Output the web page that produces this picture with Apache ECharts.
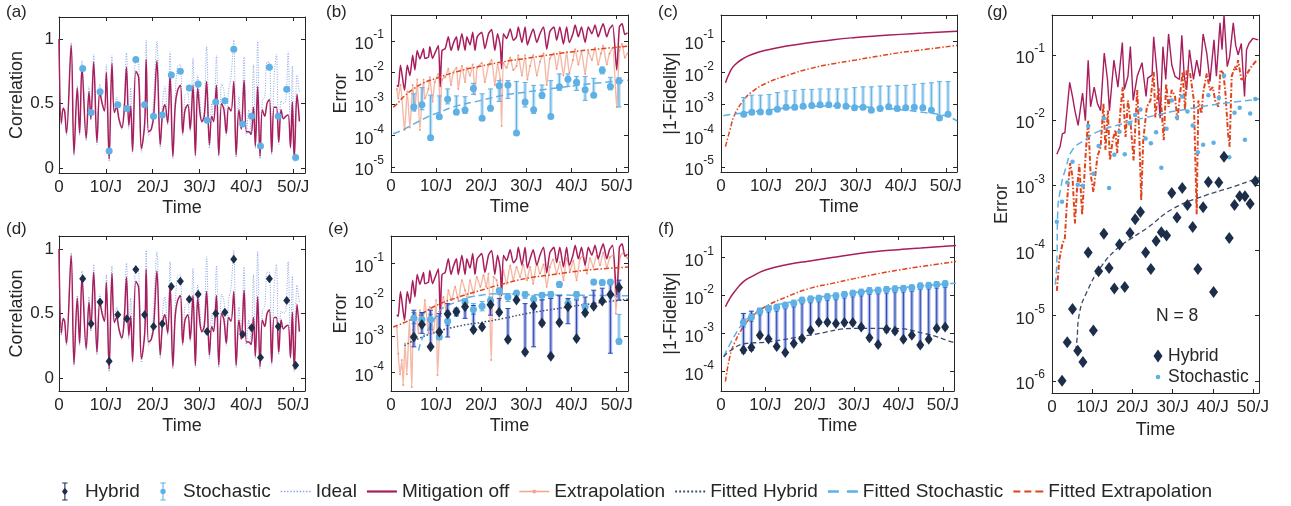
<!DOCTYPE html>
<html>
<head>
<meta charset="utf-8">
<script src="https://cdn.jsdelivr.net/npm/echarts@6/dist/echarts.min.js"></script>
<style>
body { margin: 0; background: #fff; }
#chart { width: 1291px; height: 506px; }
</style>
</head>
<body>
<div id="chart"></div>
<script>
// ---------- values ----------
// measurement times shared by (a)-(f)
const T = [5.06, 6.85, 8.77, 10.7, 12.55, 14.48, 16.4, 18.26, 20.18, 22.04, 23.97, 25.9, 27.8,
  29.7, 31.6, 33.45, 35.4, 37.3, 39.2, 41.1, 43.0, 44.9, 46.8, 48.6, 50.5];

// (a)/(d) correlation curves
const corrT = [0, 0.5, 0.9, 1.2, 1.6, 2.6, 3.2, 3.9, 4.4, 4.9, 5.8, 6.4, 6.8, 7.4, 8.1, 8.7, 9.2, 9.7, 10.1, 10.7,
  11.3, 11.8, 12.3, 12.8, 13.4, 13.9, 14.4, 14.9, 15.3, 15.7, 16.4, 17.0, 17.6, 18.3, 18.6, 19.1, 19.7, 20.2, 20.9, 21.6,
  22.1, 22.6, 23.2, 23.7, 24.3, 24.8, 25.3, 25.9, 26.4, 26.9, 27.5, 28.0, 28.6, 29.1, 29.6, 30.1, 30.5, 31.0, 31.5, 32.1,
  32.6, 33.0, 33.6, 34.1, 34.7, 35.2, 35.7, 36.2, 36.7, 37.3, 37.8, 38.4, 38.9, 39.5, 40.0, 40.5, 41.0, 41.5, 41.9, 42.4,
  42.9, 43.4, 43.9, 44.4, 44.9, 45.4, 45.9, 46.4, 46.9, 47.4, 47.9, 48.4, 48.9, 49.4, 49.8, 50.2, 50.8, 51.3];
const mitigCorr = [1.00, 0.35, 0.46, 0.44, 0.27, 0.95, 0.11, 0.62, 0.27, 0.78, 0.23, 0.59, 0.38, 0.82, 0.20, 0.59, 0.50, 0.44, 0.74, 0.07,
  0.81, 0.43, 0.47, 0.38, 0.31, 0.44, 0.78, 0.33, 0.48, 0.13, 0.75, 0.70, 0.15, 0.35, 0.84, 0.28, 0.30, 0.40, 0.83, 0.18,
  0.42, 0.49, 0.35, 0.72, 0.09, 0.48, 0.60, 0.64, 0.27, 0.45, 0.49, 0.30, 0.64, 0.10, 0.62, 0.42, 0.36, 0.40, 0.67, 0.18,
  0.40, 0.36, 0.64, 0.10, 0.50, 0.45, 0.27, 0.47, 0.44, 0.67, 0.10, 0.45, 0.30, 0.68, 0.28, 0.28, 0.26, 0.47, 0.17, 0.63,
  0.09, 0.45, 0.40, 0.50, 0.53, 0.12, 0.47, 0.47, 0.20, 0.45, 0.38, 0.40, 0.41, 0.16, 0.51, 0.07, 0.57, 0.36];
const idealCorr = [1.00, 0.33, 0.47, 0.45, 0.25, 0.97, 0.09, 0.64, 0.25, 0.83, 0.21, 0.63, 0.36, 0.88, 0.18, 0.65, 0.52, 0.44, 0.80, 0.05,
  0.87, 0.45, 0.55, 0.36, 0.30, 0.50, 0.89, 0.30, 0.62, 0.11, 0.85, 0.82, 0.12, 0.40, 0.99, 0.25, 0.30, 0.55, 0.98, 0.15,
  0.50, 0.63, 0.33, 0.90, 0.07, 0.55, 0.79, 0.80, 0.25, 0.56, 0.58, 0.28, 0.85, 0.08, 0.72, 0.52, 0.35, 0.45, 0.94, 0.15,
  0.50, 0.38, 0.87, 0.08, 0.65, 0.60, 0.25, 0.60, 0.70, 0.99, 0.08, 0.55, 0.30, 0.86, 0.25, 0.45, 0.27, 0.80, 0.15, 0.98,
  0.07, 0.52, 0.55, 0.82, 0.82, 0.10, 0.70, 0.88, 0.18, 0.52, 0.50, 0.52, 0.90, 0.15, 0.79, 0.05, 0.72, 0.58];
const stoCorr = [0.77, 0.43, 0.59, 0.13, 0.49, 0.46, 0.84, 0.49, 0.40, 0.41, 0.72, 0.75, 0.62, 0.65, 0.37, 0.51, 0.52,
  0.92, 0.34, 0.40, 0.17, 0.78, 0.40, 0.61, 0.08];
const hybCorr = [0.77, 0.42, 0.59, 0.13, 0.49, 0.46, 0.84, 0.49, 0.40, 0.42, 0.71, 0.75, 0.61, 0.65, 0.36, 0.50, 0.51,
  0.92, 0.34, 0.39, 0.16, 0.77, 0.40, 0.60, 0.10];

// (b)/(e) error, mitigation off
const errT = [1.3, 1.6, 2.1, 3.0, 3.6, 4.2, 4.8, 5.3, 5.8, 6.4, 7.2, 7.5, 8.3, 8.6, 9.2, 9.7, 10.5, 10.9, 11.3, 12.0,
  12.7, 13.3, 13.8, 14.5, 14.9, 15.7, 16.4, 16.8, 17.5, 18.1, 18.6, 19.1, 20.1, 20.8, 21.6, 22.3, 23.0, 23.6, 24.2, 24.5,
  24.9, 25.6, 26.4, 27.1, 27.8, 28.2, 29.0, 29.7, 30.2, 30.8, 31.5, 32.3, 33.0, 33.8, 34.5, 35.2, 36.1, 36.7, 37.4, 38.2,
  38.9, 39.5, 40.3, 40.8, 41.5, 42.2, 43.0, 43.7, 44.5, 45.2, 45.9, 46.5, 47.0, 47.8, 48.4, 49.1, 50.0, 50.6, 51.2, 51.8, 52.4];
const mitigErr = [3.9e-3, 3.5e-3, 1.7e-2, 2.7e-3, 1.7e-2, 8e-3, 3.5e-2, 1.2e-2, 5e-2, 2.7e-2, 5.7e-2, 2.8e-2, 3.1e-2, 6.5e-2, 2.8e-2, 4e-2, 7.2e-2, 3.5e-3, 5e-2, 5.7e-2,
  0.135, 5e-2, 8.3e-2, 0.135, 5e-2, 0.17, 5e-2, 0.135, 7.5e-2, 0.19, 5e-2, 0.135, 0.19, 5.7e-2, 0.17, 0.23, 5e-2, 0.17, 7e-2, 1.3e-2,
  0.17, 0.12, 0.24, 0.105, 0.135, 0.28, 9e-2, 0.28, 7.5e-2, 0.135, 0.24, 9e-2, 0.17, 0.28, 5.5e-2, 0.2, 0.28, 0.105, 0.28, 8e-2,
  0.28, 9e-2, 0.17, 0.32, 0.135, 0.28, 9e-2, 0.28, 0.17, 0.32, 0.135, 0.24, 0.35, 0.135, 0.24, 0.32, 1.2e-2, 0.28, 0.35, 0.16, 0.18];
const extrapB = [3e-3, 1.5e-3, 4e-3, 1.5e-4, 2.5e-3, 1.8e-4, 4e-3, 6e-4, 6e-3, 1.5e-4, 6e-3, 1.5e-3, 3e-3, 7e-3, 1.2e-3, 5e-3, 9e-3, 4e-4, 6e-3, 7e-3,
  1.3e-2, 4e-3, 1e-2, 1.4e-2, 3e-3, 1.6e-2, 5e-3, 1.4e-2, 8e-3, 1.8e-2, 2e-3, 1.4e-2, 2e-2, 5e-3, 1.7e-2, 2.5e-2, 4e-3, 1.8e-2, 6e-3, 2e-4,
  2e-2, 1.4e-2, 3e-2, 1.2e-2, 1.6e-2, 3.5e-2, 8e-3, 3.5e-2, 6e-3, 1.6e-2, 3.5e-2, 8e-3, 2.2e-2, 4e-2, 4e-3, 2.8e-2, 4e-2, 1.3e-2, 4.5e-2, 8e-3,
  4.5e-2, 1e-2, 2.5e-2, 5.5e-2, 1.8e-2, 4.5e-2, 9e-3, 4.5e-2, 2.5e-2, 6e-2, 1.8e-2, 4e-2, 7e-2, 1.8e-2, 4e-2, 6e-2, 8e-4, 5e-2, 8e-2, 3e-2, 4e-2];
const fitExBT = [0.5, 1, 3, 5, 7, 10, 15, 20, 25, 30, 35, 40, 45, 52.5];
const fitExB = [8e-4, 9e-4, 1.8e-3, 3e-3, 4.5e-3, 6.5e-3, 1.1e-2, 1.6e-2, 2.2e-2, 2.8e-2, 3.6e-2, 4.5e-2, 5.4e-2, 6.8e-2];
const fitStoBT = [0.5, 1, 3, 5, 8, 10, 15, 20, 25, 30, 35, 40, 45, 52.5];
const fitStoB = [1.15e-4, 1.2e-4, 1.6e-4, 2.3e-4, 3.8e-4, 5e-4, 9e-4, 1.3e-3, 1.9e-3, 2.4e-3, 3e-3, 3.7e-3, 4.5e-3, 5.7e-3];
const stoB = [8e-4, 9.5e-4, 8.5e-5, 3.9e-4, 1.4e-3, 5.5e-4, 6.4e-4, 3.1e-3, 3.5e-4, 7.3e-4, 3.8e-3, 4e-3, 1.2e-4,
  1.15e-3, 6.6e-4, 1.9e-3, 4e-4, 3.5e-3, 6.1e-3, 4.9e-3, 2.8e-3, 1.9e-3, 1.17e-2, 3.6e-3, 5.4e-3];
const stoBLo = [6e-4, 6.5e-4, 8.5e-5, 3.5e-4, 1e-3, 4.5e-4, 5e-4, 2e-3, 3e-4, 6e-4, 1.2e-3, 1.5e-3, 1.1e-4,
  8e-4, 5e-4, 1.5e-3, 3.5e-4, 2.7e-3, 3.6e-3, 2.7e-3, 1.3e-3, 1.6e-3, 9e-3, 2.8e-3, 8e-4];
const stoBHi = [2.1e-3, 3.3e-3, 1.9e-3, 1.8e-3, 3e-3, 1.8e-3, 1.7e-3, 4.5e-3, 2.1e-3, 3e-3, 5.5e-3, 5.5e-3, 5.2e-3,
  4.8e-3, 3.9e-3, 4e-3, 5.5e-3, 9e-3, 9e-3, 7.5e-3, 7.5e-3, 6.5e-3, 1.5e-2, 7e-3, 6.8e-3];

// (c) |1-Fidelity|
const fidT = [1, 2, 3, 5, 7, 10, 15, 20, 25, 30, 35, 40, 45, 52.5];
const mitigFidC = [4.7e-3, 1.05e-2, 1.7e-2, 2.8e-2, 3.8e-2, 5.1e-2, 7.1e-2, 8.9e-2, 0.11, 0.129, 0.146, 0.162, 0.178, 0.205];
const fitExC = [4.4e-5, 1.5e-4, 4.4e-4, 1.3e-3, 2.5e-3, 4.5e-3, 8.3e-3, 1.35e-2, 1.9e-2, 2.5e-2, 3.3e-2, 4.3e-2, 5.3e-2, 7.2e-2];
const fitStoCT = [0.5, 1, 5, 10, 15, 20, 25, 30, 35, 40, 45, 50, 52.5];
const fitStoC = [4.3e-4, 4.4e-4, 5.2e-4, 6.3e-4, 7.5e-4, 8.3e-4, 8.6e-4, 8.3e-4, 7.6e-4, 6.6e-4, 5.4e-4, 4.2e-4, 2.9e-4];
const stoC = [4.7e-4, 5.4e-4, 5.6e-4, 5.6e-4, 6.8e-4, 7.8e-4, 7.8e-4, 8.5e-4, 8.9e-4, 9.5e-4, 9.5e-4, 8.9e-4, 8.5e-4,
  7.6e-4, 7.8e-4, 6.3e-4, 7.2e-4, 8.1e-4, 7.2e-4, 7.6e-4, 7.8e-4, 7.6e-4, 6.3e-4, 3.6e-4, 4.7e-4];
const stoCLo = [4e-4, 4.6e-4, 4.8e-4, 4.8e-4, 5.8e-4, 6.6e-4, 6.6e-4, 7.2e-4, 7.6e-4, 8.1e-4, 8.1e-4, 7.6e-4, 7.2e-4,
  6.5e-4, 6.6e-4, 5.4e-4, 6.1e-4, 6.9e-4, 6.1e-4, 6.5e-4, 6.6e-4, 6.5e-4, 5.4e-4, 3.1e-4, 4e-4];
const stoCHi = [1.6e-3, 1.9e-3, 1.9e-3, 2e-3, 2.3e-3, 2.6e-3, 2.7e-3, 2.9e-3, 2.9e-3, 3e-3, 3e-3, 3e-3, 3e-3,
  3.3e-3, 3.5e-3, 3.5e-3, 3.7e-3, 3.7e-3, 3.9e-3, 3.9e-3, 4.2e-3, 4.5e-3, 4.7e-3, 5.1e-3, 5.1e-3];

// (e) error with hybrid
const extrapET = [1.3, 1.6, 2.0, 2.4, 2.7, 3.1, 3.5, 4.1, 4.6, 4.9, 5.5, 6.1, 6.4, 7.0, 7.5, 8.3, 8.6, 9.4, 10.0, 10.3,
  10.9, 11.6, 12.2, 12.7, 13.4, 14.2, 14.9, 15.7, 16.4, 16.9, 17.5, 18.3, 19.0, 19.8, 20.5, 21.1, 21.6, 22.2, 22.7, 23.4,
  24.2, 24.9, 25.6, 26.4, 27.1, 27.8, 28.6, 29.3, 30.1, 30.8, 31.5, 32.3, 33.0, 33.8, 34.5, 35.2, 35.9, 36.7, 37.4, 38.2,
  38.9, 39.7, 40.4, 41.1, 41.9, 42.6, 43.4, 44.1, 44.8, 45.6, 46.3, 47.0, 47.8, 48.5, 49.3, 49.8, 50.2, 50.8, 51.5, 52.4];
const extrapE = [1.8e-3, 3.3e-4, 9e-5, 2.2e-4, 4.5e-5, 6.3e-4, 9e-5, 2.8e-3, 4e-5, 1.5e-3, 4.2e-3, 1.2e-3, 5.2e-3, 1.8e-3, 9.8e-3, 1.2e-3, 6.4e-3, 1.2e-3, 9.8e-3, 8.5e-5,
  2.8e-3, 1.2e-2, 5.2e-3, 1.85e-2, 9.8e-3, 2.3e-2, 9.8e-3, 3.5e-2, 1.85e-2, 9.8e-3, 3.5e-2, 1.5e-2, 4.3e-2, 2.3e-2, 4.8e-2, 2.3e-2, 5.3e-2, 2.2e-4, 4.3e-2, 3.5e-2,
  9.8e-3, 6.6e-2, 2.8e-2, 8.9e-2, 3.5e-2, 8.1e-2, 4.3e-2, 9.5e-2, 3.5e-2, 8.1e-2, 2.8e-2, 0.11, 5.3e-2, 9.5e-2, 2.3e-2, 8.1e-2, 0.13, 5.3e-2, 0.11, 3.5e-2,
  0.14, 6.6e-2, 0.12, 3.5e-2, 0.14, 0.16, 5.3e-2, 0.14, 8.1e-2, 0.18, 9e-2, 0.2, 8e-2, 0.15, 0.17, 4.2e-3, 2.3e-2, 0.16, 0.2, 0.14];
const fitExET = [0.5, 5, 10, 15, 20, 25, 30, 35, 40, 45, 52.5];
const fitExE = [1.8e-3, 3.1e-3, 7e-3, 1.2e-2, 1.85e-2, 2.8e-2, 3.9e-2, 4.8e-2, 5.9e-2, 6.9e-2, 8e-2];
const fitHybET = [3, 5, 10, 15, 20, 25, 30, 35, 40, 45, 52.5];
const fitHybE = [5.5e-4, 7.5e-4, 1.3e-3, 1.9e-3, 2.4e-3, 3.1e-3, 4.2e-3, 5.3e-3, 6.6e-3, 8e-3, 1.05e-2];
const fitStoET = [6.1, 7, 8.6, 10, 10.9, 12.5, 14.5, 17.5, 20, 23.4, 30, 40, 52.5];
const fitStoE = [4e-4, 9e-4, 1.8e-3, 3.5e-3, 5.2e-3, 7e-3, 8.7e-3, 1.2e-2, 1.35e-2, 1.47e-2, 1.4e-2, 1.35e-2, 1.3e-2];
const stoE = [3.1e-3, 2.9e-3, 2.9e-3, 9.5e-4, 2.6e-3, 4.9e-3, 8.8e-3, 5.4e-3, 6.7e-3, 9.6e-3, 1.8e-2, 1.2e-2, 1.55e-2,
  1.4e-2, 1.05e-2, 1.35e-2, 1.4e-2, 2.7e-2, 7.9e-3, 1.4e-2, 6.4e-3, 3.1e-2, 3e-2, 3.1e-2, 7.3e-4];
const stoELo = [2.2e-3, 2e-3, 1.5e-3, 8e-4, 2e-3, 3.5e-3, 6e-3, 4e-3, 5e-3, 7e-3, 1.4e-2, 9e-3, 1.2e-2,
  1.1e-2, 8e-3, 1e-2, 1.1e-2, 2.2e-2, 6e-3, 1.1e-2, 5e-3, 2.6e-2, 2.5e-2, 2.6e-2, 6e-4];
const stoEHi = [4.5e-3, 4.2e-3, 4e-3, 3.5e-3, 5e-3, 6e-3, 1.1e-2, 8e-3, 9e-3, 1.2e-2, 2.1e-2, 1.5e-2, 1.8e-2,
  1.7e-2, 1.3e-2, 1.6e-2, 1.7e-2, 3.1e-2, 1e-2, 1.7e-2, 8e-3, 3.6e-2, 3.5e-2, 3.6e-2, 4e-3];
const hybE = [9.5e-4, 2.1e-3, 5.1e-4, 1.3e-3, 4.1e-3, 4.7e-3, 6.5e-3, 1.5e-3, 1.8e-3, 7.4e-3, 4.6e-3, 8.1e-4, 1.0e-2,
  3.7e-4, 6.8e-3, 2.3e-3, 2.8e-4, 2.4e-3, 6.5e-3, 8.7e-4, 4.4e-3, 6.7e-3, 9.4e-3, 1.4e-2, 2.2e-2];
const hybELo = [5.1e-4, 1.2e-3, 5.1e-4, 9.5e-4, 9.5e-4, 3.8e-3, 3.1e-3, 1.3e-3, 1.6e-3, 3.8e-3, 4e-3, 7e-4, 8.8e-3,
  3.2e-4, 5.1e-4, 2e-3, 2.5e-4, 2.1e-3, 2.2e-3, 7.5e-4, 3.8e-3, 5.8e-3, 8.8e-3, 3.4e-4, 9.8e-3];
const hybEHi = [5.2e-3, 4.5e-3, 5.2e-3, 4.2e-3, 7.9e-3, 5.8e-3, 9.8e-3, 7e-3, 2.2e-3, 9.8e-3, 1.1e-2, 5.8e-3, 1.7e-2,
  7.9e-3, 9.8e-3, 1e-2, 1.1e-2, 1.3e-2, 1.1e-2, 1e-2, 1.2e-2, 1.85e-2, 2.1e-2, 2.8e-2, 3.5e-2];

// (f) |1-Fidelity| with hybrid
const fidFT = [1, 2, 3, 5, 7, 10, 15, 20, 25, 30, 35, 40, 45, 53.5];
const mitigFidF = [5.1e-3, 8.5e-3, 1.25e-2, 2.3e-2, 3.2e-2, 4.7e-2, 6.6e-2, 8.1e-2, 0.1, 0.123, 0.145, 0.162, 0.18, 0.21];
const fitExF = [5.5e-5, 2.5e-4, 5.5e-4, 1.5e-3, 2.8e-3, 5.1e-3, 9.5e-3, 1.55e-2, 2.1e-2, 2.8e-2, 3.7e-2, 4.7e-2, 5.8e-2, 8.1e-2];
const fitStoFT = [0.6, 2.1, 4.3, 5.8, 10, 15, 20, 25, 30, 35, 40, 45, 53.5];
const fitStoF = [2.45e-4, 5.5e-4, 1.5e-3, 2.4e-3, 4.7e-3, 6.5e-3, 8.5e-3, 1.0e-2, 1.2e-2, 1.4e-2, 1.6e-2, 1.8e-2, 2.15e-2];
const fitHybFT = [0.6, 2, 5.5, 10.3, 20, 30.5, 38.8, 46, 52.2, 53.5];
const fitHybF = [2.45e-4, 3.5e-4, 5.5e-4, 6e-4, 9.1e-4, 1.37e-3, 1.37e-3, 1e-3, 6e-4, 5.5e-4];
const stoF = [1.95e-3, 2.7e-3, 3.9e-3, 4.6e-3, 4.9e-3, 5.6e-3, 6.3e-3, 7.6e-3, 8.1e-3, 8.5e-3, 9.3e-3, 9.8e-3, 1.07e-2,
  1.15e-2, 1.23e-2, 1.35e-2, 1.38e-2, 1.45e-2, 1.5e-2, 1.55e-2, 1.6e-2, 1.8e-2, 1.86e-2, 1.95e-2, 2.05e-2];
const stoFLo = [1.5e-3, 2.1e-3, 3.1e-3, 3.7e-3, 3.9e-3, 4.5e-3, 5e-3, 6.1e-3, 6.5e-3, 6.8e-3, 7.4e-3, 7.8e-3, 8.6e-3,
  9.2e-3, 9.8e-3, 1.08e-2, 1.1e-2, 1.16e-2, 1.2e-2, 1.24e-2, 1.28e-2, 1.44e-2, 1.49e-2, 1.56e-2, 1.64e-2];
const stoFHi = [2.4e-3, 3.3e-3, 4.7e-3, 5.5e-3, 5.9e-3, 6.7e-3, 7.6e-3, 9.1e-3, 9.7e-3, 1.02e-2, 1.12e-2, 1.18e-2, 1.28e-2,
  1.38e-2, 1.48e-2, 1.62e-2, 1.66e-2, 1.74e-2, 1.8e-2, 1.86e-2, 1.92e-2, 2.16e-2, 2.23e-2, 2.34e-2, 2.46e-2];
const hybF = [3.7e-4, 4.3e-4, 9.1e-4, 7.2e-4, 4.6e-4, 3.2e-4, 5.5e-4, 7.4e-4, 1.23e-3, 2.0e-3, 2.0e-3, 1.86e-3, 1.95e-3,
  1.95e-3, 1.5e-3, 7.8e-4, 5.2e-4, 1.3e-3, 1.17e-3, 7.1e-4, 9.1e-4, 5.0e-4, 7.1e-4, 1.38e-3, 1.5e-3];
const hybFLo = [3.1e-4, 3.6e-4, 7.8e-4, 6.2e-4, 4e-4, 2.8e-4, 4.8e-4, 6.4e-4, 1.05e-3, 1.75e-3, 1.75e-3, 1.6e-3, 1.7e-3,
  1.7e-3, 1.3e-3, 6.8e-4, 4.5e-4, 1.1e-3, 1e-3, 6.2e-4, 8e-4, 4.4e-4, 6.2e-4, 1.2e-3, 1.3e-3];
const hybFHi = [3.4e-3, 3.9e-3, 4.6e-3, 5e-3, 5.3e-3, 5.8e-3, 6.5e-3, 7.5e-3, 8e-3, 8.5e-3, 9.2e-3, 9.5e-3, 1.05e-2,
  1.1e-2, 1.2e-2, 1.3e-2, 1.35e-2, 1.4e-2, 1.45e-2, 1.5e-2, 1.55e-2, 1.7e-2, 1.8e-2, 1.9e-2, 2e-2];

// (g) N = 8
const gT = [1.2, 2.5, 3.8, 5.1, 6.4, 7.7, 9.0, 10.3, 11.6, 12.9, 14.2, 15.5, 16.8, 18.1, 19.4, 20.7, 22.0, 23.3, 24.6, 25.9,
  27.2, 28.5, 29.8, 31.1, 32.4, 33.7, 35.0, 36.3, 37.6, 38.9, 40.2, 41.5, 42.8, 44.1, 45.4, 46.7, 48.0, 49.3, 50.6];
const stoG = [2.75e-4, 5.6e-4, 1.1e-3, 2.3e-3, 1.02e-3, 9.8e-4, 8.1e-3, 1.5e-3, 4.0e-3, 1.07e-2, 9.1e-4, 2.95e-3, 6.6e-3,
  3.0e-3, 8.9e-3, 1.2e-2, 1.45e-2, 5.2e-3, 4.4e-3, 6.5e-3, 1.86e-3, 7.4e-3, 2.0e-2, 1.1e-2, 2.3e-2, 1.35e-2, 8.3e-3, 3.2e-3,
  4.2e-3, 2.4e-2, 4.5e-3, 2.2e-2, 4.8e-2, 2.7e-3, 1.3e-2, 1.55e-2, 5.0e-3, 1.26e-2, 2.1e-2];
const hybGT = gT.slice(1);
const hybG = [1e-6, 3.9e-6, 1.26e-5, 2.9e-6, 1.95e-6, 9.3e-5, 5.9e-6, 4.8e-5, 1.8e-4, 5.4e-5, 2.6e-5, 1.23e-4, 2.75e-5,
  1.86e-4, 3.0e-4, 3.9e-4, 9.3e-5, 5.2e-5, 1.4e-4, 1.9e-4, 1.7e-4, 7.6e-4, 3.2e-4, 9.1e-4, 5.0e-4, 2.3e-4, 5.2e-5, 4.6e-4,
  1.12e-3, 2.3e-5, 1.1e-3, 2.75e-3, 1.55e-4, 5.0e-4, 6.8e-4, 6.8e-4, 5.2e-4, 1.15e-3];
const mitigGT = [1.2, 2.0, 2.6, 3.2, 4.4, 5.1, 5.7, 6.5, 7.6, 8.3, 9.0, 9.6, 10.5, 11.3, 12.1, 13.0, 13.8, 14.3, 15.4, 16.4,
  17.5, 18.0, 18.9, 19.5, 20.2, 21.2, 22.4, 23.4, 23.8, 24.9, 25.3, 26.1, 26.9, 27.6, 28.3, 29.0, 29.8, 30.6, 31.7, 32.3,
  32.9, 33.5, 34.2, 35.2, 36.0, 36.8, 37.6, 38.5, 39.3, 40.3, 40.9, 41.8, 42.3, 42.8, 43.6, 44.2, 45.1, 45.7, 46.3, 47.1,
  47.9, 48.4, 49.0, 50.0, 51.3];
const mitigG = [3.0e-3, 3.9e-3, 6.2e-3, 6.4e-3, 3.8e-2, 2.3e-2, 1.4e-2, 8.3e-3, 2.6e-2, 9.8e-3, 8.3e-2, 1.6e-2, 3.2e-2, 1.8e-2, 1.4e-2, 0.107, 4.2e-2, 1.4e-2, 8.3e-2, 3.2e-2,
  0.155, 2.95e-2, 4.7e-2, 0.134, 2.0e-2, 4.7e-2, 7.6e-2, 2.3e-2, 4.4e-2, 4.9e-2, 0.19, 5.5e-2, 1.07e-2, 0.134, 4.2e-2, 0.21, 7.0e-2, 4.7e-2, 4.2e-2, 0.2,
  4.7e-2, 2.9e-2, 0.12, 4.2e-2, 8.3e-2, 4.7e-2, 0.21, 0.107, 3.9e-2, 0.17, 4.7e-2, 0.31, 0.12, 0.41, 6.6e-2, 9.4e-2, 0.31, 0.14, 0.1, 0.15,
  2.3e-2, 0.12, 0.15, 0.18, 0.17];
const fitExGT = [1.2, 1.8, 2.6, 3.2, 3.7, 4.5, 5.1, 5.7, 6.2, 6.8, 7.5, 8.4, 9.0, 9.6, 10.3, 11.3, 12.1, 12.8, 13.3, 13.9,
  14.4, 15.1, 15.8, 16.2, 17.1, 17.6, 18.3, 18.9, 19.5, 20.3, 21.2, 21.7, 22.2, 22.7, 23.6, 24.5, 25.0, 25.3, 25.7, 26.5,
  27.1, 27.8, 28.4, 29.0, 29.8, 30.6, 31.2, 31.9, 32.5, 33.1, 33.5, 34.3, 35.3, 36.0, 36.4, 37.2, 37.6, 38.5, 39.3, 40.0,
  40.6, 41.4, 41.9, 42.6, 43.1, 43.8, 44.2, 44.7, 45.5, 45.9, 46.3, 47.1, 47.9, 48.8, 49.6, 50.8, 51.3];
const fitExG = [2.4e-5, 7.1e-5, 1.26e-4, 1.55e-4, 5.2e-4, 2.2e-3, 1.35e-3, 2.6e-4, 8.3e-4, 2.1e-3, 3.5e-4, 3.2e-3, 1.0e-2, 1.5e-3, 7.9e-4, 2.75e-3, 3.9e-3, 1.8e-2, 3.5e-3, 1.4e-2,
  2.4e-3, 4.9e-3, 7.1e-3, 3.1e-3, 1.6e-2, 3.2e-2, 5.5e-3, 2.0e-2, 1.0e-2, 2.4e-3, 2.9e-2, 6.2e-3, 5.9e-4, 4.9e-3, 1.6e-2, 2.0e-2, 3.9e-2, 5.5e-2, 1.1e-2, 3.1e-2,
  2.0e-2, 4.9e-3, 3.6e-2, 1.6e-2, 2.9e-2, 2.3e-2, 1.0e-2, 2.6e-2, 5.5e-2, 1.4e-2, 5.9e-2, 5.5e-2, 2.0e-2, 3.6e-4, 2.0e-2, 1.26e-2, 2.6e-2, 5.2e-2, 2.9e-2, 3.2e-2,
  2.0e-2, 1.6e-2, 5.9e-2, 5.2e-2, 2.9e-2, 6.2e-3, 3.9e-3, 4.7e-2, 6.6e-2, 5.9e-2, 8.3e-2, 4.2e-2, 4.4e-2, 5.5e-2, 6.6e-2, 8.1e-2, 8.3e-2];
const fitStoGT = [0.8, 1.2, 1.4, 2.2, 3.5, 5.1, 8, 11.3, 17.9, 26.1, 34.3, 42.6, 51.5];
const fitStoG = [3e-5, 6.3e-5, 3.6e-4, 9.3e-4, 1.9e-3, 3.5e-3, 4.9e-3, 6.6e-3, 8.9e-3, 1.2e-2, 1.5e-2, 1.8e-2, 2.1e-2];
const fitHybGT = [5.9, 6.2, 6.8, 8.8, 12.1, 16.2, 19.5, 23.6, 30.2, 38.5, 44.2, 50.8, 51.5];
const fitHybG = [2.9e-6, 4.2e-6, 1.07e-5, 2.4e-5, 5.5e-5, 1.07e-4, 1.5e-4, 2.2e-4, 4.4e-4, 7.1e-4, 9.1e-4, 1.26e-3, 1.3e-3];

const xTicks = [0, 10, 20, 30, 40, 50];

// ---------- styling ----------
const INK = '#262626';
const FONT = 'Liberation Sans, Arial, Helvetica, sans-serif';
const C = {
  mitig: '#a81e5c', ideal: '#8aa6e6', sto: '#5fb0e4', stoBand: 'rgba(95,176,228,0.4)',
  hyb: '#1c2e4a', hybBar: '#2a47b8', hybBand: 'rgba(42,71,184,0.4)',
  extrap: '#f2ad98', extrapDot: '#ee8060', fitEx: '#e0441c', fitHyb: '#3b4a68'
};

const panels = [
  { grid: { left: 59, top: 17, width: 246, height: 156 }, xMax: 52.5, log: false, yMin: -0.04, yMax: 1.17, yTicks: [0, 0.5, 1], yName: 'Correlation', yGap: 29 },
  { grid: { left: 391, top: 15, width: 237, height: 157 }, xMax: 52.5, log: true, yMin: 6.9e-6, yMax: 0.668, yTicks: [1e-5, 1e-4, 1e-3, 1e-2, 1e-1], yName: 'Error', yGap: 37 },
  { grid: { left: 721, top: 15, width: 236, height: 157 }, xMax: 52.5, log: true, yMin: 6.9e-6, yMax: 0.668, yTicks: [1e-5, 1e-4, 1e-3, 1e-2, 1e-1], yName: '|1-Fidelity|', yGap: 37 },
  { grid: { left: 59, top: 236, width: 246, height: 155 }, xMax: 52.5, log: false, yMin: -0.1, yMax: 1.1, yTicks: [0, 0.5, 1], yName: 'Correlation', yGap: 29 },
  { grid: { left: 391, top: 236, width: 237, height: 155 }, xMax: 52.5, log: true, yMin: 3.1e-5, yMax: 0.575, yTicks: [1e-4, 1e-3, 1e-2, 1e-1], yName: 'Error', yGap: 37 },
  { grid: { left: 721, top: 236, width: 233, height: 155 }, xMax: 52.5, log: true, yMin: 3.1e-5, yMax: 0.37, yTicks: [1e-4, 1e-3, 1e-2, 1e-1], yName: '|1-Fidelity|', yGap: 37 },
  { grid: { left: 1052, top: 15, width: 207, height: 378 }, xMax: 51.5, log: true, yMin: 6.5e-7, yMax: 0.41, yTicks: [1e-6, 1e-5, 1e-4, 1e-3, 1e-2, 1e-1], yName: 'Error', yGap: 36 }
];

const grids = [], xAxes = [], yAxes = [];
panels.forEach((p, i) => {
  grids.push(Object.assign({ containLabel: false }, p.grid));
  const line = { show: true, onZero: false, lineStyle: { color: INK, width: 1 } };
  const tick = { show: true, inside: true, length: 4, lineStyle: { color: INK }, customValues: xTicks };
  xAxes.push({
    type: 'value', gridIndex: i, min: 0, max: p.xMax, position: 'bottom',
    axisLine: line, axisTick: tick, splitLine: { show: false },
    axisLabel: { customValues: xTicks, formatter: v => (v === 0 ? '0' : v + '/J'), fontSize: 17, fontFamily: FONT, color: INK, margin: 6 },
    name: 'Time', nameLocation: 'middle', nameGap: 26, nameTextStyle: { fontSize: 18, fontFamily: FONT, color: INK }
  });
  xAxes.push({
    type: 'value', gridIndex: i, min: 0, max: p.xMax, position: 'top',
    axisLine: line, axisTick: tick, axisLabel: { show: false }, splitLine: { show: false }
  });
  const ytick = { show: true, inside: true, length: 4, lineStyle: { color: INK }, customValues: p.yTicks };
  const ylabel = p.log
    ? {
        customValues: p.yTicks, margin: 7,
        formatter: v => '{b|10}{s|' + Math.round(Math.log10(v)) + '}',
        rich: {
          b: { fontSize: 17, fontFamily: FONT, color: INK, lineHeight: 24, verticalAlign: 'bottom' },
          s: { fontSize: 12, fontFamily: FONT, color: INK, lineHeight: 24, verticalAlign: 'top' }
        }
      }
    : { customValues: p.yTicks, margin: 5, fontSize: 17, fontFamily: FONT, color: INK };
  const yType = p.log ? 'log' : 'value';
  yAxes.push({
    type: yType, logBase: 10, gridIndex: i, min: p.yMin, max: p.yMax, position: 'left',
    axisLine: line, axisTick: ytick, axisLabel: ylabel, splitLine: { show: false }, minorTick: { show: false },
    name: p.yName, nameLocation: 'middle', nameGap: p.yGap, nameTextStyle: { fontSize: 18, fontFamily: FONT, color: INK }
  });
  yAxes.push({
    type: yType, logBase: 10, gridIndex: i, min: p.yMin, max: p.yMax, position: 'right',
    axisLine: line, axisTick: ytick, axisLabel: { show: false }, splitLine: { show: false }
  });
});

function zip(xs, ys) { return xs.map((x, i) => [x, ys[i]]); }

function lineS(p, name, xs, ys, color, width, type, extra) {
  return Object.assign({
    type: 'line', name: name, xAxisIndex: 2 * p, yAxisIndex: 2 * p, data: zip(xs, ys),
    symbol: 'none', lineStyle: { color: color, width: width, type: type }, itemStyle: { color: color },
    animation: false, silent: true
  }, extra || {});
}
function dotS(p, name, xs, ys, color, symbol, size) {
  return {
    type: 'scatter', name: name, xAxisIndex: 2 * p, yAxisIndex: 2 * p, data: zip(xs, ys),
    symbol: symbol, symbolSize: size, itemStyle: { color: color, opacity: 1 }, animation: false, silent: true, z: 5
  };
}
function barS(p, name, xs, lo, hi, color, band, cap) {
  return {
    type: 'custom', name: name, xAxisIndex: 2 * p, yAxisIndex: 2 * p, clip: true, animation: false, silent: true, z: 4,
    data: xs.map((x, i) => [x, lo[i], hi[i]]),
    encode: { x: 0, y: [1, 2] },
    renderItem: function (params, api) {
      const a = api.coord([api.value(0), api.value(1)]);
      const b = api.coord([api.value(0), api.value(2)]);
      const x = a[0];
      return {
        type: 'group', children: [
          { type: 'line', shape: { x1: x, y1: a[1], x2: x, y2: b[1] }, style: { stroke: band, lineWidth: 3.5 } },
          { type: 'line', shape: { x1: x, y1: a[1], x2: x, y2: b[1] }, style: { stroke: color, lineWidth: 1 } },
          { type: 'line', shape: { x1: x - cap, y1: a[1], x2: x + cap, y2: a[1] }, style: { stroke: color, lineWidth: 1 } },
          { type: 'line', shape: { x1: x - cap, y1: b[1], x2: x + cap, y2: b[1] }, style: { stroke: color, lineWidth: 1 } }
        ]
      };
    }
  };
}
const exExtra = { symbol: 'circle', showSymbol: true, symbolSize: 2, smooth: 0.2, itemStyle: { color: C.extrapDot, opacity: 0.7 }, lineStyle: { color: C.extrap, width: 1.4, opacity: 0.85 } };
const dashDot = [5, 2, 1.5, 2];
const wavy = { smooth: 0.35 };
const spiky = { smooth: 0.2 };

const series = [
  // (a)
  lineS(0, 'Ideal', corrT, idealCorr, C.ideal, 1, [1, 1.5], wavy),
  lineS(0, 'Mitigation off', corrT, mitigCorr, C.mitig, 1.5, 'solid', wavy),
  dotS(0, 'Stochastic', T, stoCorr, C.sto, 'circle', 7),
  // (d)
  lineS(3, 'Ideal', corrT, idealCorr, C.ideal, 1, [1, 1.5], wavy),
  lineS(3, 'Mitigation off', corrT, mitigCorr, C.mitig, 1.5, 'solid', wavy),
  dotS(3, 'Hybrid', T, hybCorr, C.hyb, 'diamond', [7, 9]),
  // (b)
  lineS(1, 'Extrapolation', errT, extrapB, C.extrap, 1.4, 'solid', exExtra),
  lineS(1, 'Mitigation off', errT, mitigErr, C.mitig, 1.5, 'solid', spiky),
  lineS(1, 'Fitted Extrapolation', fitExBT, fitExB, C.fitEx, 1.5, dashDot, { smooth: true }),
  lineS(1, 'Fitted Stochastic', fitStoBT, fitStoB, C.sto, 1.5, [7, 4], { smooth: true }),
  barS(1, 'Stochastic error', T, stoBLo, stoBHi, C.sto, C.stoBand, 2.5),
  dotS(1, 'Stochastic', T, stoB, C.sto, 'circle', 7),
  // (c)
  lineS(2, 'Mitigation off', fidT, mitigFidC, C.mitig, 1.5, 'solid', { smooth: true }),
  lineS(2, 'Fitted Extrapolation', fidT, fitExC, C.fitEx, 1.5, dashDot, { smooth: true }),
  lineS(2, 'Fitted Stochastic', fitStoCT, fitStoC, C.sto, 1.5, [7, 4], { smooth: true }),
  barS(2, 'Stochastic error', T, stoCLo, stoCHi, C.sto, C.stoBand, 2.5),
  dotS(2, 'Stochastic', T, stoC, C.sto, 'circle', 7),
  // (e)
  lineS(4, 'Extrapolation', extrapET, extrapE, C.extrap, 1.4, 'solid', exExtra),
  lineS(4, 'Mitigation off', errT, mitigErr, C.mitig, 1.5, 'solid', spiky),
  lineS(4, 'Fitted Extrapolation', fitExET, fitExE, C.fitEx, 1.5, dashDot, { smooth: true }),
  lineS(4, 'Fitted Hybrid', fitHybET, fitHybE, C.fitHyb, 1.5, [1.5, 2], { smooth: true }),
  lineS(4, 'Fitted Stochastic', fitStoET, fitStoE, C.sto, 1.5, [7, 4], { smooth: true }),
  barS(4, 'Stochastic error', T, stoELo, stoEHi, C.sto, C.stoBand, 2.5),
  barS(4, 'Hybrid error', T, hybELo, hybEHi, C.hybBar, C.hybBand, 2.5),
  dotS(4, 'Stochastic', T, stoE, C.sto, 'circle', 7),
  dotS(4, 'Hybrid', T, hybE, C.hyb, 'diamond', [8, 11]),
  // (f)
  lineS(5, 'Mitigation off', fidFT, mitigFidF, C.mitig, 1.5, 'solid', { smooth: true }),
  lineS(5, 'Fitted Extrapolation', fidFT, fitExF, C.fitEx, 1.5, dashDot, { smooth: true }),
  lineS(5, 'Fitted Stochastic', fitStoFT, fitStoF, C.sto, 1.5, [7, 4], { smooth: true }),
  lineS(5, 'Fitted Hybrid', fitHybFT, fitHybF, C.fitHyb, 1.3, [5, 3], { smooth: true }),
  barS(5, 'Stochastic error', T, stoFLo, stoFHi, C.sto, C.stoBand, 2.5),
  barS(5, 'Hybrid error', T, hybFLo, hybFHi, C.hybBar, C.hybBand, 2.5),
  dotS(5, 'Stochastic', T, stoF, C.sto, 'circle', 7),
  dotS(5, 'Hybrid', T, hybF, C.hyb, 'diamond', [8, 11]),
  // (g)
  lineS(6, 'Mitigation off', mitigGT, mitigG, C.mitig, 1.4, 'solid'),
  lineS(6, 'Fitted Extrapolation', fitExGT, fitExG, C.fitEx, 2, dashDot),
  lineS(6, 'Fitted Stochastic', fitStoGT, fitStoG, C.sto, 1.5, [7, 4], { smooth: true }),
  lineS(6, 'Fitted Hybrid', fitHybGT, fitHybG, C.fitHyb, 1.3, [5, 3], { smooth: true }),
  dotS(6, 'Stochastic', gT, stoG, C.sto, 'circle', 4.5),
  dotS(6, 'Hybrid', hybGT, hybG, C.hyb, 'diamond', [9, 12])
];

// legend glyphs
function dotPath(n, step, s) {
  let d = '';
  for (let k = 0; k < n; k++) d += 'M' + (k * step) + ',0h' + s + 'v' + s + 'h-' + s + 'z';
  return 'path://' + d;
}
const icons = {
  hyb: 'path://M2,0H8V1.2H2ZM2,18.8H8V20H2ZM4.4,0H5.6V20H4.4ZM5,5.5L8.2,10L5,14.5L1.8,10Z',
  sto: 'path://M2,0H8V1.2H2ZM2,18.8H8V20H2ZM4.4,0H5.6V20H4.4ZM5,7A3,3 0 1 1 5,13A3,3 0 1 1 5,7Z',
  ideal: dotPath(10, 3, 1.4),
  mitig: 'path://M0,0H30V2.2H0Z',
  extrap: 'path://M0,1.2H30V2.6H0ZM15,0A1.9,1.9 0 1 1 15,3.8A1.9,1.9 0 1 1 15,0Z',
  fitHyb: dotPath(8, 3.9, 1.8),
  fitSto: 'path://M0,0H11V2.6H0ZM19,0H30V2.6H19Z',
  fitEx: 'path://M0,0H7V2.2H0ZM11,0H18V2.2H11ZM22,0H30V2.2H22Z'
};

const labelStyle = t => ({ text: t, font: '17px ' + FONT, fill: INK });
const graphic = [
  { type: 'text', left: 6, top: 4, style: labelStyle('(a)') },
  { type: 'text', left: 326, top: 4, style: labelStyle('(b)') },
  { type: 'text', left: 658, top: 4, style: labelStyle('(c)') },
  { type: 'text', left: 6, top: 221, style: labelStyle('(d)') },
  { type: 'text', left: 328, top: 221, style: labelStyle('(e)') },
  { type: 'text', left: 658, top: 221, style: labelStyle('(f)') },
  { type: 'text', left: 987, top: 4, style: labelStyle('(g)') },
  { type: 'text', x: 1156, y: 316, style: { text: 'N = 8', font: '17.5px ' + FONT, fill: INK, verticalAlign: 'middle' } },
  { type: 'polygon', shape: { points: [[1158, 349.5], [1162.5, 356], [1158, 362.5], [1153.5, 356]] }, style: { fill: C.hyb } },
  { type: 'text', x: 1168, y: 356, style: { text: 'Hybrid', font: '17.5px ' + FONT, fill: INK, verticalAlign: 'middle' } },
  { type: 'circle', shape: { cx: 1158, cy: 377, r: 2.3 }, style: { fill: C.sto } },
  { type: 'text', x: 1168, y: 377, style: { text: 'Stochastic', font: '17.5px ' + FONT, fill: INK, verticalAlign: 'middle' } }
];

const chart = echarts.init(document.getElementById('chart'));
chart.setOption({
  backgroundColor: '#fff',
  animation: false,
  grid: grids,
  xAxis: xAxes,
  yAxis: yAxes,
  series: series,
  graphic: graphic,
  legend: {
    left: 57, top: 477, itemWidth: 30, itemHeight: 18, itemGap: 10, selectedMode: false,
    textStyle: { fontSize: 19, fontFamily: FONT, color: INK },
    formatter: name => (name === 'Hybrid' ? 'Hybrid\u00a0\u00a0' : name),
    data: [
      { name: 'Hybrid', icon: icons.hyb },
      { name: 'Stochastic', icon: icons.sto },
      { name: 'Ideal', icon: icons.ideal },
      { name: 'Mitigation off', icon: icons.mitig },
      { name: 'Extrapolation', icon: icons.extrap },
      { name: 'Fitted Hybrid', icon: icons.fitHyb },
      { name: 'Fitted Stochastic', icon: icons.fitSto },
      { name: 'Fitted Extrapolation', icon: icons.fitEx }
    ]
  }
});
</script>
</body>
</html>
